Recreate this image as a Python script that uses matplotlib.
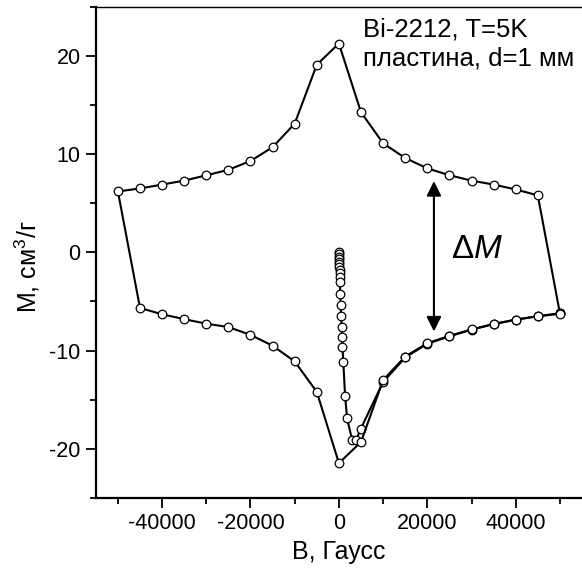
import numpy as np
import matplotlib
matplotlib.use("Agg")
import matplotlib.pyplot as plt
from matplotlib.ticker import MultipleLocator

plt.rcParams['font.family'] = ['Liberation Sans', 'DejaVu Sans']
plt.rcParams['mathtext.fontset'] = 'custom'
plt.rcParams['mathtext.rm'] = 'Liberation Sans'
plt.rcParams['mathtext.it'] = 'Liberation Sans:italic'
plt.rcParams['axes.unicode_minus'] = False

# virgin curve (field up from 0)
B_virgin = [0, 20, 40, 60, 80, 100, 120, 140, 160, 180, 200, 300, 400, 500,
            600, 700, 800, 1000, 1400, 1850, 3000, 3900, 4900,
            10000, 15000, 20000, 25000, 30000, 35000, 40000, 45000, 50000]
M_virgin = [0, -0.2, -0.45, -0.7, -0.95, -1.2, -1.5, -1.8, -2.1, -2.5, -3.0,
            -4.2, -5.4, -6.5, -7.6, -8.6, -9.6, -11.2, -14.6, -16.9, -19.1,
            -19.1, -18.0,
            -13.2, -10.7, -9.3, -8.55, -7.87, -7.3, -6.85, -6.5, -6.2]

# loop: field down 50000 -> -50000, then up to 50000
B_loop = [50000, 45000, 40000, 35000, 30000, 25000, 20000, 15000, 10000, 5000, 0,
          -5000, -10000, -15000, -20000, -25000, -30000, -35000, -40000, -45000, -50000,
          -45000, -40000, -35000, -30000, -25000, -20000, -15000, -10000, -5000, 0,
          5000, 10000, 15000, 20000, 25000, 30000, 35000, 40000, 45000, 50000]
M_loop = [-6.2, 5.8, 6.4, 6.9, 7.3, 7.85, 8.55, 9.6, 11.1, 14.26, 21.25,
          19.1, 13.1, 10.7, 9.3, 8.4, 7.84, 7.3, 6.9, 6.5, 6.2,
          -5.66, -6.3, -6.8, -7.26, -7.6, -8.4, -9.5, -11.1, -14.2, -21.45,
          -19.3, -13.0, -10.6, -9.25, -8.5, -7.85, -7.3, -6.85, -6.5, -6.25]

fig = plt.figure(figsize=(5.82, 5.77), dpi=100)
ax = fig.add_axes([95.8/582, 1-498/577, 486.2/582, (498-6.7)/577])

for xs, ys in [(B_virgin, M_virgin), (B_loop, M_loop)]:
    ax.plot(xs, ys, color='black', lw=1.5, marker='o', ms=6.2,
            mfc='white', mec='black', mew=0.9)

ax.annotate('', xy=(21500, 7.25), xytext=(21500, -8.05),
            arrowprops=dict(arrowstyle='<|-|>', color='black', lw=1.5,
                            mutation_scale=22, shrinkA=0, shrinkB=0))
ax.text(25300, -0.6, r'$\Delta M$', fontsize=24, va='baseline', ha='left')
ax.text(5500, 22.0, 'Bi-2212, T=5K', fontsize=18.5, va='baseline', ha='left')
ax.text(5500, 19.0, 'пластина, d=1 мм', fontsize=18.5, va='baseline', ha='left')

ax.set_xlim(-55000, 55000)
ax.set_ylim(-25, 25)
ax.xaxis.set_major_locator(MultipleLocator(20000))
ax.xaxis.set_minor_locator(MultipleLocator(10000))
ax.yaxis.set_major_locator(MultipleLocator(10))
ax.yaxis.set_minor_locator(MultipleLocator(5))
ax.tick_params(which='major', direction='out', length=7, width=1.3, labelsize=15.5, pad=4)
ax.tick_params(which='minor', direction='out', length=4, width=1.3)
ax.tick_params(top=False, right=False, which='both')

ax.spines['left'].set_linewidth(1.6)
ax.spines['bottom'].set_linewidth(1.6)
ax.spines['top'].set_linewidth(1.0)
ax.spines['right'].set_visible(False)

ax.set_xlabel('B, Гаусс', fontsize=18, labelpad=4)
ax.set_ylabel('M, см$^3$/г', fontsize=18)
ax.yaxis.set_label_coords(-0.111, 0.47)

fig.savefig('out.png', dpi=100)
